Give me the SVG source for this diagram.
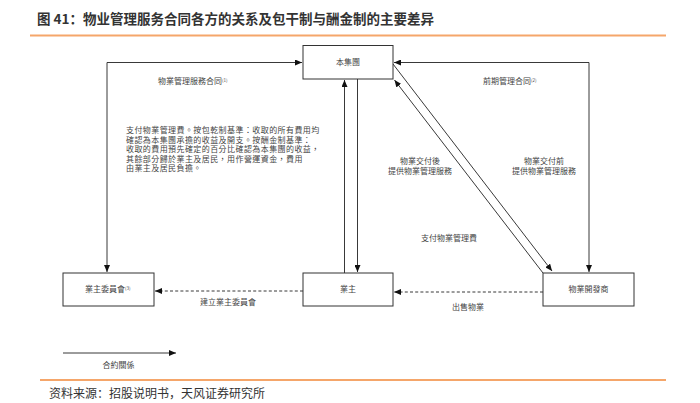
<svg xmlns="http://www.w3.org/2000/svg" width="700" height="403" viewBox="0 0 700 403">
<defs>
<style>
.t{font-family:"Noto Sans CJK TC","Noto Sans CJK SC",sans-serif;fill:#444;font-size:8px}
.c{text-anchor:middle}
.sup{font-size:4.5px}
.p{font-size:8px;letter-spacing:0.42px}
.box{fill:#fff;stroke:#333;stroke-width:1}
.ln{fill:none;stroke:#222;stroke-width:0.9}
.dash{fill:none;stroke:#222;stroke-width:0.9;stroke-dasharray:3,2.2}
.hdr{font-family:"Noto Sans CJK SC",sans-serif;font-weight:bold;font-size:13.5px;fill:#333}
.src{font-family:"Noto Sans CJK SC",sans-serif;font-size:12px;fill:#333}
</style>
<marker id="ah" markerWidth="7" markerHeight="6" refX="7" refY="3" orient="auto-start-reverse" markerUnits="userSpaceOnUse">
<path d="M0,0 L7,3 L0,6 Z" fill="#111"/>
</marker>
</defs>
<rect width="700" height="403" fill="#fff"/>
<text class="hdr" x="37" y="24">图 41：物业管理服务合同各方的关系及包干制与酬金制的主要差异</text>
<line x1="30" y1="35.5" x2="666" y2="35.5" stroke="#F5A66A" stroke-width="2"/>

<g id="connectors">
<path class="ln" d="M107,272 V62.5 H302" marker-start="url(#ah)" marker-end="url(#ah)"/>
<path class="ln" d="M589,272 V62.5 H394" marker-start="url(#ah)" marker-end="url(#ah)"/>
<path class="ln" d="M344.5,273 V80" marker-end="url(#ah)"/>
<path class="ln" d="M357.5,79 V272" marker-end="url(#ah)"/>
<path class="ln" d="M393,64 L552,271" marker-end="url(#ah)"/>
<path class="ln" d="M543,273 L394.5,80" marker-end="url(#ah)"/>
<path class="dash" d="M303,291 H155" marker-end="url(#ah)"/>
<path class="dash" d="M543,292 H394" marker-end="url(#ah)"/>
<path class="ln" d="M63,353 H176" marker-end="url(#ah)"/>
</g>

<g id="node-group">
<rect class="box" x="303" y="45.5" width="90" height="33.5"/>
<text class="t c" x="348" y="65">本集團</text>
</g>
<g id="node-owners-committee">
<rect class="box" x="63" y="273" width="91" height="33"/>
<text class="t" x="85" y="292">業主委員會<tspan class="sup" dy="-2.5">(3)</tspan></text>
</g>
<g id="node-owners">
<rect class="box" x="303" y="273" width="90" height="33"/>
<text class="t c" x="348" y="292">業主</text>
</g>
<g id="node-developer">
<rect class="box" x="543" y="273" width="91" height="33"/>
<text class="t c" x="588.5" y="292">物業開發商</text>
</g>

<g id="labels">
<text class="t" x="158" y="84">物業管理服務合同<tspan class="sup" dy="-2.5">(1)</tspan></text>
<text class="t" x="483" y="84">前期管理合同<tspan class="sup" dy="-2.5">(2)</tspan></text>
<text class="t p" x="126" y="133">支付物業管理費。按包乾制基準：收取的所有費用均</text>
<text class="t p" x="126" y="142.5">確認為本集團承擔的收益及開支。按酬金制基準：</text>
<text class="t p" x="126" y="152">收取的費用預先確定的百分比確認為本集團的收益，</text>
<text class="t p" x="126" y="161.5">其餘部分歸於業主及居民，用作營運資金，費用</text>
<text class="t p" x="126" y="171">由業主及居民負擔。</text>
<text class="t c" x="420" y="163.5">物業交付後</text>
<text class="t c" x="420" y="173.5">提供物業管理服務</text>
<text class="t c" x="544" y="163.5">物業交付前</text>
<text class="t c" x="544" y="173.5">提供物業管理服務</text>
<text class="t c" x="449" y="241">支付物業管理費</text>
<text class="t c" x="228" y="304.5">建立業主委員會</text>
<text class="t c" x="468" y="309.5">出售物業</text>
<text class="t c" x="118.5" y="368">合約關係</text>
</g>

<line x1="40" y1="380" x2="666" y2="380" stroke="#F5A66A" stroke-width="2"/>
<text class="src" x="49" y="398">资料来源：招股说明书，天风证券研究所</text>
</svg>
